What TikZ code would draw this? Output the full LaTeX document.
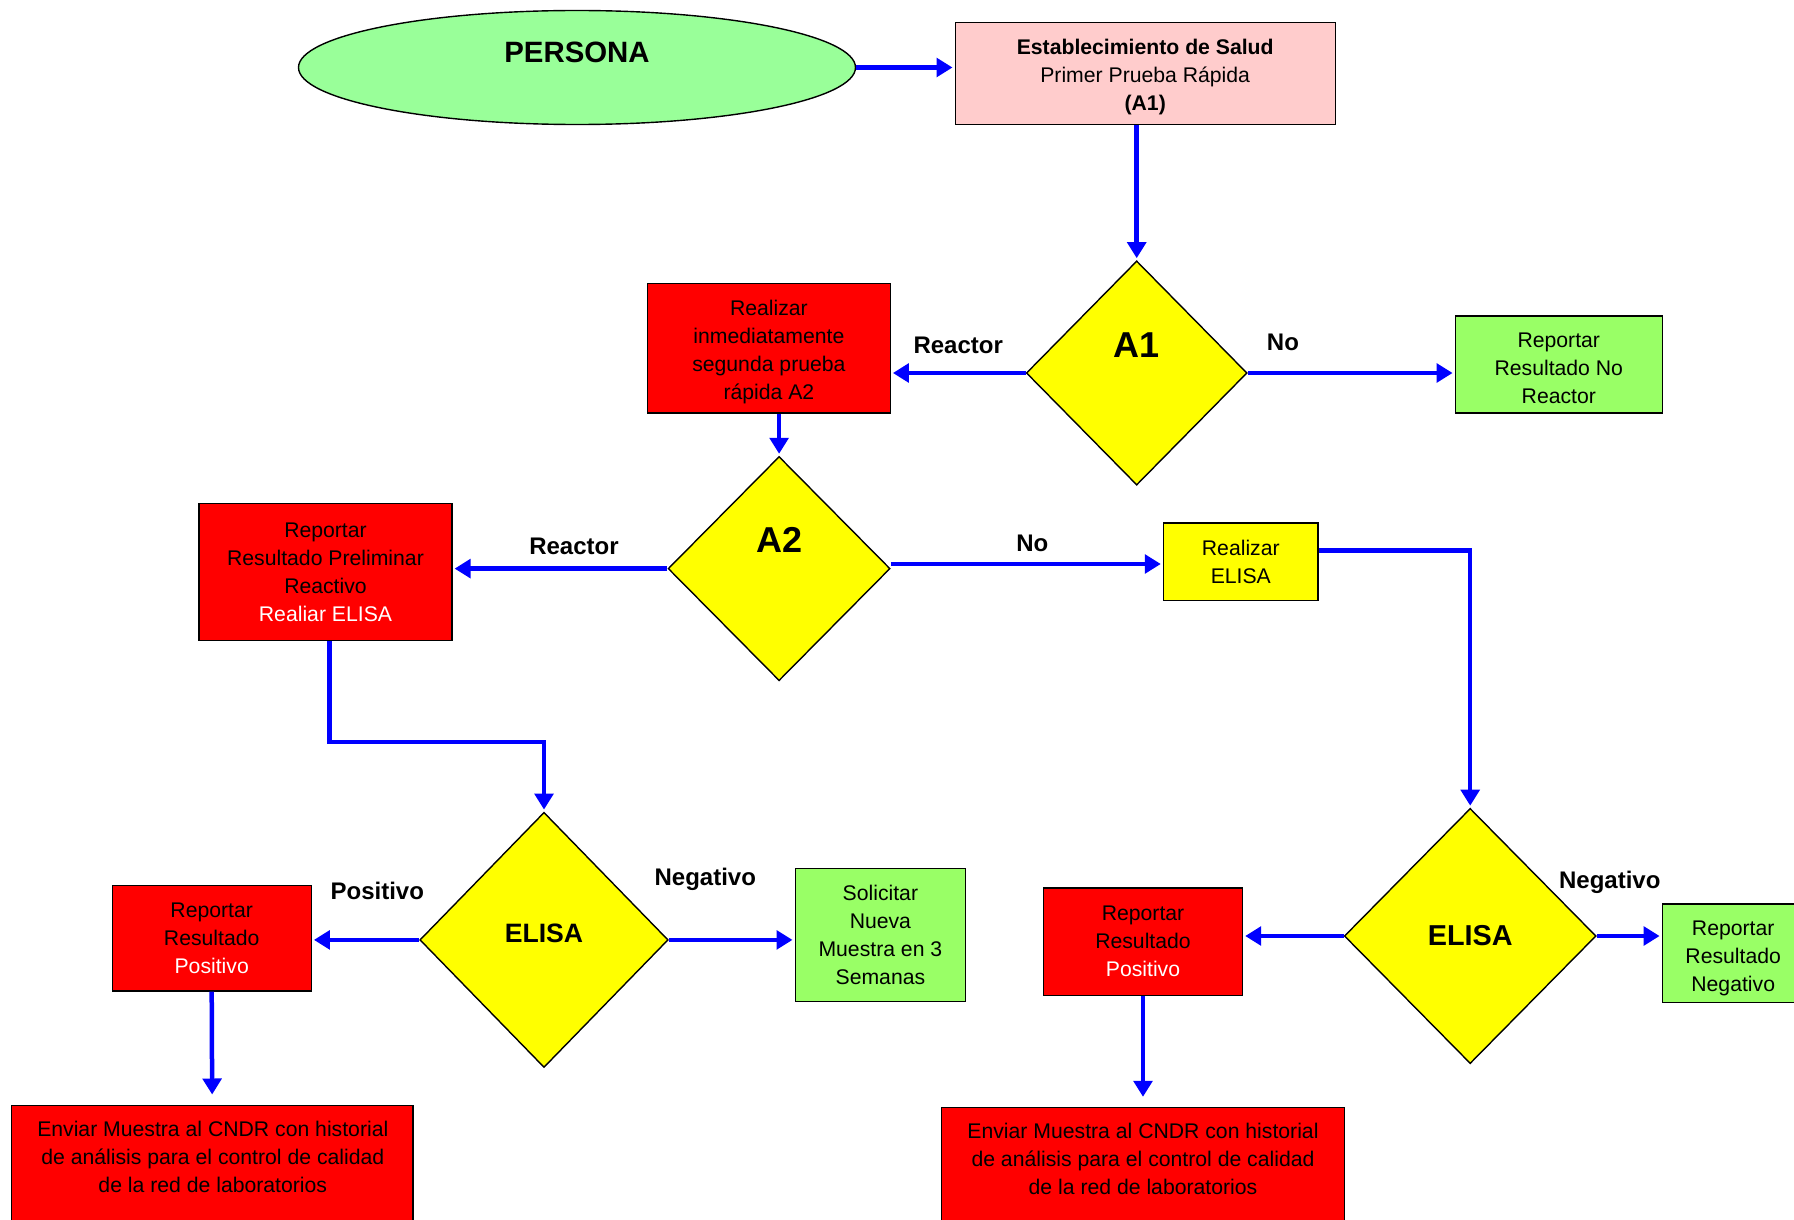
\documentclass[tikz,border=0pt]{standalone}
\usepackage{fontspec}
\setmainfont{Liberation Sans}
\usetikzlibrary{arrows.meta,shapes.geometric}

\definecolor{verdepersona}{RGB}{153,255,153}
\definecolor{rosa}{RGB}{255,204,204}
\definecolor{rojo}{RGB}{255,0,0}
\definecolor{amarillo}{RGB}{255,255,0}
\definecolor{verdecaja}{RGB}{153,255,102}
\definecolor{azul}{RGB}{0,0,255}

% puntal para bajar un poco el texto de una caja
\newcommand{\bajartxt}[1]{\rule{0pt}{#1}}

\tikzset{
  caja/.style={rectangle,draw=black,line width=0.7pt,inner sep=2pt,align=center,
    font=\fontsize{10.6}{14}\selectfont},
  roja/.style={caja,fill=rojo},
  verde/.style={caja,fill=verdecaja},
  decision/.style={diamond,draw=black,line width=0.7pt,fill=amarillo,inner sep=0pt},
  texto/.style={align=center,inner sep=0pt,font=\fontsize{10.6}{14}\selectfont},
  etiqueta/.style={inner sep=0pt,text=black,font=\fontsize{12}{14}\selectfont\bfseries},
  flecha/.style={color=azul,line width=2.25pt,-{Triangle[length=8pt,width=9.3pt]}}
}

\begin{document}
\begin{tikzpicture}[x=0.5pt,y=-0.5pt,shorten >=1pt]
    \useasboundingbox (0,0) rectangle (1794,1220);
    \clip (0,0) rectangle (1794,1220);

    \node[ellipse,draw=black,line width=0.7pt,fill=verdepersona,minimum width=278.5pt,minimum height=57pt,
      font=\fontsize{14.7}{16}\selectfont\bfseries,text depth=15pt] (persona) at (577,67.5) {PERSONA};
    \node[caja,fill=rosa,minimum width=190pt,minimum height=51pt] (estab) at (1145.2,73.8)
      {\bajartxt{11pt}\textbf{Establecimiento de Salud}\\Primer Prueba Rápida\\\textbf{(A1)}};

    \node[decision,minimum width=110.4pt,minimum height=112.1pt,
      font=\fontsize{18}{20}\selectfont\bfseries,text depth=27.5pt] (a1) at (1136.7,373) {A1};
    \node[roja,minimum width=121.3pt,minimum height=64.7pt] (realiza) at (768.9,348.4)
      {\bajartxt{11pt}Realizar\\inmediatamente\\segunda prueba\\rápida A2};
    \node[verde,minimum width=103.5pt,minimum height=48.6pt] (noreact) at (1558.8,364.4)
      {\bajartxt{11pt}Reportar\\Resultado No\\Reactor};

    \node[decision,minimum width=111pt,minimum height=112.1pt,
      font=\fontsize{18}{20}\selectfont\bfseries,text depth=28.6pt] (a2) at (779.1,568.6) {A2};
    \node[roja,minimum width=126.4pt,minimum height=68.7pt] (prelim) at (325.5,572)
      {Reportar\\Resultado Preliminar\\Reactivo\\\textcolor{white}{Realiar ELISA}};
    \node[caja,fill=amarillo,minimum width=77.3pt,minimum height=38.9pt] (relisa) at (1240.8,561.7)
      {Realizar\\ELISA};

    % rama izquierda
    \node[decision,minimum width=124.2pt,minimum height=127.6pt,
      font=\fontsize{13.3}{15}\selectfont\bfseries,text depth=6.3pt] (elisaizq) at (544,939.9) {ELISA};
    \node[roja,minimum width=99.5pt,minimum height=52.7pt] (posizq) at (211.7,938.2)
      {Reportar\\Resultado\\\textcolor{white}{Positivo}};
    \node[verde,minimum width=85.2pt,minimum height=66.4pt] (solic) at (880.4,934.8)
      {Solicitar\\Nueva\\Muestra en 3\\Semanas};
    \node[roja,minimum width=200.8pt,minimum height=75pt] (envizq) at (212.2,1180.2) {};
    \node[texto] (envizqtxt) at (212.8,1156.7)
      {Enviar Muestra al CNDR con historial\\de análisis para el control de calidad\\de la red de laboratorios};

    % rama derecha
    \node[decision,minimum width=125.9pt,minimum height=127.6pt,
      font=\fontsize{14.4}{16}\selectfont\bfseries] (elisader) at (1470.2,936) {ELISA};
    \node[roja,minimum width=99.5pt,minimum height=53.8pt] (posder) at (1143,941.6)
      {Reportar\\Resultado\\\textcolor{white}{Positivo}};
    \node[verde,minimum width=70.9pt,minimum height=49.2pt] (negder) at (1733.2,953)
      {\bajartxt{12.2pt}Reportar\\Resultado\\Negativo};
    \node[roja,minimum width=201.4pt,minimum height=75pt] (envder) at (1143,1182.5) {};
    \node[texto] (envdertxt) at (1143,1159)
      {Enviar Muestra al CNDR con historial\\de análisis para el control de calidad\\de la red de laboratorios};

    \path[flecha]
    (persona.east) edge (persona.east -| estab.west)
    (a1.north |- estab.south) edge (a1.north)

    (a1.west) edge node[etiqueta,above=8.5pt] {Reactor} (a1.west -| realiza.east)
    (a1.east) edge node[etiqueta,above=10.2pt,pos=0.17] {No} (a1.east -| noreact.west)

    (a2.north |- realiza.south) edge (a2.north)
    (a2.west) edge node[etiqueta,above=5.6pt,pos=0.435] {Reactor} (a2.west -| prelim.east)
    ([yshift=2.3pt]a2.east) edge node[etiqueta,above=4.8pt,pos=0.52] {No} ([yshift=2.3pt]a2.east -| relisa.west)

    (elisaizq.west) edge node[etiqueta,above=19.2pt,pos=0.39] {Positivo} (elisaizq.west -| posizq.east)
    (elisaizq.east) edge node[etiqueta,above=23.4pt,pos=0.29] {Negativo} (elisaizq.east -| solic.west)
    (posizq.south) edge[shorten >=5pt] (envizq.north)

    (elisader.east) edge node[etiqueta,above=20.2pt,pos=0.2] {Negativo} (elisader.east -| negder.west)
    (elisader.west) edge (elisader.west -| posder.east)
    (posder.south) edge[shorten >=5pt] (envder.north)
    ;

    \draw[flecha] ([xshift=2pt]prelim.south) -- ++(0,100.7) -| (elisaizq.north);
    \draw[flecha] ([yshift=5.7pt]relisa.east) -| (elisader.north);
\end{tikzpicture}
\end{document}
